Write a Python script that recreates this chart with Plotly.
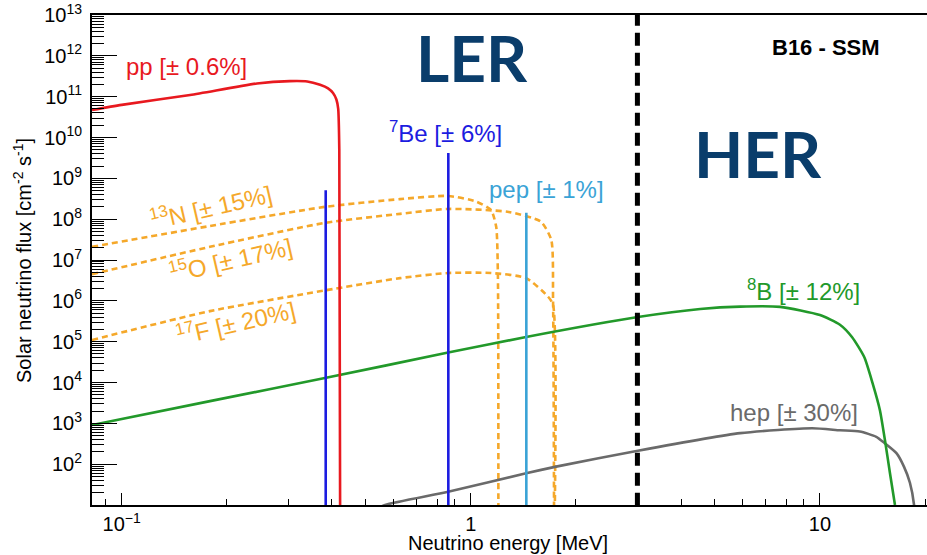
import plotly.graph_objects as go

# ---------------- data ----------------
FLOOR = 1.0  # below the visible axis bottom, so drops reach the frame

pp_E = [0.0822, 0.100, 0.157, 0.244, 0.303, 0.340, 0.370, 0.390, 0.403, 0.412, 0.417, 0.420, 0.4225]
pp_F = [4.7e10, 6.3e10, 1.1e11, 2.1e11, 2.4e11, 2.35e11, 1.95e11, 1.6e11, 1.23e11, 8.5e10, 5.0e10, 5e9, FLOOR]

be7_E = [0.384, 0.862]
be7_F = [5.1e8, 4.2e9]

pep_E = [1.442]
pep_F = [1.44e8]

n13_E = [0.0822, 0.179, 0.382, 0.627, 0.861, 1.036, 1.143, 1.182, 1.195, 1.199]
n13_F = [2.1e7, 6.8e7, 2.0e8, 3.1e8, 3.7e8, 2.7e8, 1.66e8, 6.5e7, 5e6, FLOOR]

o15_E = [0.0822, 0.179, 0.382, 0.627, 0.861, 1.284, 1.587, 1.700, 1.720, 1.732]
o15_F = [4.5e6, 2.1e7, 8.1e7, 1.35e8, 1.78e8, 1.5e8, 8.7e7, 3.1e7, 1.0e6, FLOOR]

f17_E = [0.0822, 0.179, 0.382, 0.627, 0.861, 1.143, 1.440, 1.665, 1.720, 1.735]
f17_F = [1.1e5, 5.6e5, 1.8e6, 3.6e6, 4.8e6, 4.8e6, 3.6e6, 1.26e6, 8.0e5, FLOOR]

b8_E = [0.0822, 0.179, 0.385, 0.861, 1.44, 3.01, 4.54, 5.91, 7.69, 10.0, 11.41, 12.35,
        13.39, 14.14, 14.85, 15.35, 15.87, 16.4]
b8_F = [9.1e2, 3.5e3, 1.3e4, 5.4e4, 1.3e5, 4.0e5, 6.3e5, 7.2e5, 7.1e5, 4.5e5, 2.6e5, 1.3e5,
        4.2e4, 9.8e3, 2.1e3, 3.9e2, 60, 10]

hep_E = [0.52, 0.568, 0.861, 1.44, 1.755, 3.01, 5.91, 9.5, 11.41, 13.0, 14.5, 15.3,
         16.56, 17.4, 18.1, 18.6, 18.8]
hep_F = [7, 10, 21, 60, 87, 214, 575, 760, 676, 631, 468, 331,
         186, 87, 35, 10, FLOOR]

boundary_E = 3.0
boundary_F = [FLOOR, 1e13]

y_tickvals = [1e2, 1e3, 1e4, 1e5, 1e6, 1e7, 1e8, 1e9, 1e10, 1e11, 1e12, 1e13]
y_ticktext = ["10<sup>2</sup>", "10<sup>3</sup>", "10<sup>4</sup>", "10<sup>5</sup>",
              "10<sup>6</sup>", "10<sup>7</sup>", "10<sup>8</sup>", "10<sup>9</sup>",
              "10<sup>10</sup>", "10<sup>11</sup>", "10<sup>12</sup>", "10<sup>13</sup>"]
x_tickvals = [0.1, 1, 10]
x_ticktext = ["10<sup>\u22121</sup>", "1", "10"]

x_minor = [m * d for d in (0.01, 0.1, 1, 10) for m in range(2, 10)]
y_minor = [m * 10 ** p for p in range(1, 13) for m in range(2, 10)]

# ---------------- styling ----------------
RED = "#e8191f"
BLUE = "#1c1ce0"
PEP = "#3aa3d6"
ORANGE = "#f5a82a"
GREEN = "#22992a"
GREY = "#6a6a6a"
NAVY = "#0a3d6b"
FONT = "Liberation Sans, Arial, sans-serif"

L, R, T, B = 92, 0, 15, 50
W, H = 927, 555
PW, PH = W - L - R, H - T - B


def px(x):
    return (x - L) / PW


def py(y):
    return (H - B - y) / PH


fig = go.Figure()


def curve(E, F, color, dash=None, width=2.6, shape="spline"):
    fig.add_trace(go.Scatter(
        x=E, y=F, mode="lines",
        line=dict(color=color, width=width, dash=dash, shape=shape, smoothing=0.6),
        hoverinfo="skip", cliponaxis=True))


def vlines(E, F, color, width=2.6):
    xs, ys = [], []
    for e, f in zip(E, F):
        xs += [e, e, None]
        ys += [FLOOR, f, None]
    fig.add_trace(go.Scatter(x=xs, y=ys, mode="lines",
                             line=dict(color=color, width=width), hoverinfo="skip"))


curve(n13_E, n13_F, ORANGE, dash="6px,4px")
curve(o15_E, o15_F, ORANGE, dash="6px,4px")
curve(f17_E, f17_F, ORANGE, dash="6px,4px")
curve(hep_E, hep_F, GREY)
curve(b8_E, b8_F, GREEN)
vlines(be7_E, be7_F, BLUE)
vlines(pep_E, pep_F, PEP)
curve(pp_E, pp_F, RED)
fig.add_trace(go.Scatter(x=[boundary_E, boundary_E], y=boundary_F, mode="lines",
                         line=dict(color="black", width=5, dash="13px,7px"),
                         hoverinfo="skip"))


def text_at(text, x, y, size, color, family=FONT, angle=0):
    fig.add_annotation(text=text, x=px(x), y=py(y), xref="paper", yref="paper",
                       xanchor="center", yanchor="middle", showarrow=False,
                       textangle=angle, font=dict(family=family, size=size, color=color))


labels = [
    ("pp [\u00b1 0.6%]", 186, 66, RED, 0),
    ("<sup>7</sup>Be [\u00b1 6%]", 445, 132, BLUE, 0),
    ("pep [\u00b1 1%]", 546, 190, PEP, 0),
    ("<sup>13</sup>N [\u00b1 15%]", 211, 206, ORANGE, -13),
    ("<sup>15</sup>O [\u00b1 17%]", 230, 259, ORANGE, -13),
    ("<sup>17</sup>F [\u00b1 20%]", 235, 322, ORANGE, -13),
    ("<sup>8</sup>B [\u00b1 12%]", 803, 290, GREEN, 0),
    ("hep [\u00b1 30%]", 794, 412, GREY, 0),
]
for text, x, y, c, ang in labels:
    text_at(text, x, y, 24, c, angle=ang)

text_at("<b>B16 - SSM</b>", 826, 47, 22, "black")
text_at("<b>LER</b>", 472, 57, 64, NAVY, family="Lato, Open Sans, sans-serif")
text_at("<b>HER</b>", 758, 154, 64, NAVY, family="Lato, Open Sans, sans-serif")
text_at("Solar neutrino flux [cm<sup>-2</sup> s<sup>-1</sup>]", 22, 261, 20, "black", angle=-90)
text_at("Neutrino energy [MeV]", 508, 543, 20, "black")

fig.update_xaxes(type="log", range=[-1.0851, 1.3066],
                 tickmode="array", tickvals=x_tickvals, ticktext=x_ticktext,
                 ticks="inside", ticklen=12, tickwidth=1, tickcolor="black",
                 minor=dict(tickmode="array", tickvals=x_minor, ticks="inside",
                            ticklen=6, tickwidth=1, tickcolor="black", showgrid=False),
                 showline=True, linecolor="black", linewidth=2, mirror=True,
                 showgrid=False, zeroline=False,
                 tickfont=dict(family=FONT, size=20, color="black"))
fig.update_yaxes(type="log", range=[1, 13],
                 tickmode="array", tickvals=y_tickvals, ticktext=y_ticktext,
                 ticks="inside", ticklen=25, tickwidth=1, tickcolor="black",
                 minor=dict(tickmode="array", tickvals=y_minor, ticks="inside",
                            ticklen=12, tickwidth=1, tickcolor="black", showgrid=False),
                 showline=True, linecolor="black", linewidth=2, mirror=False,
                 showgrid=False, zeroline=False, ticklabelstandoff=4,
                 tickfont=dict(family=FONT, size=20, color="black"))

fig.update_layout(width=W, height=H, margin=dict(l=L, r=R, t=T, b=B, autoexpand=False),
                  plot_bgcolor="white", paper_bgcolor="white", showlegend=False,
                  font=dict(family=FONT))

fig.write_html("out.html")
